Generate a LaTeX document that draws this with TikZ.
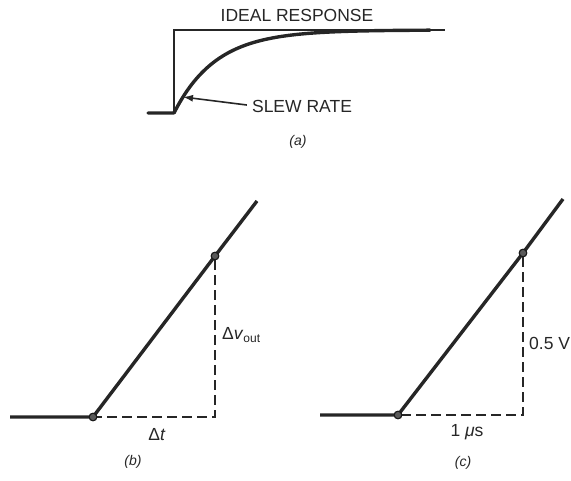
\documentclass[tikz,border=0pt]{standalone}
\usepackage{fontspec}
\setmainfont{Liberation Sans}
\usetikzlibrary{arrows.meta}
\begin{document}
\begin{tikzpicture}[x=1pt,y=1pt,
  thickline/.style={line width=3.4pt,color=black!85},
  thinline/.style={line width=2.2pt,color=black!85},
  dashline/.style={line width=2.2pt,color=black!85,dash pattern=on 10pt off 5pt},
  lbl/.style={font=\fontsize{17.5}{20}\selectfont,text=black!85,inner sep=0pt},
  caption/.style={font=\fontsize{14}{16}\selectfont\itshape,text=black!85,inner sep=0pt},
  dot/.style={circle,draw=black!90,fill=black!65,line width=1pt,minimum size=7.5pt,inner sep=0pt}]
\useasboundingbox (0,0) rectangle (571,480);
% ---------- (a)
\coordinate (a0) at (148,367);
\coordinate (a1) at (174,367);
\coordinate (a2) at (174,450);
\coordinate (a3) at (445,450);
\draw[thinline] (a1) -- (a2) -- (a3);
\draw[thickline,line cap=round] (a0) -- (a1)
  plot[domain=174:430,samples=80,smooth] (\x,{367+83*(1-exp(-(\x-174)/42))});
\node[lbl] (ideal) at (297,465) {IDEAL RESPONSE};
\node[lbl] (slew) at (302,374) {SLEW RATE};
\coordinate (slewpt) at (183,383);
\draw[line width=1.6pt,color=black!85,-{Latex[length=10pt,width=7pt]}] (slew.west) ++(-5,1) -- (slewpt);
\node[caption] (capa) at (298,338) {(a)};
% ---------- (b)
\coordinate (b0) at (10,63);
\node[dot] (b1) at (93,63) {};
\node[dot] (b2) at (215,224) {};
\coordinate (b3) at (257,279);
\coordinate (bc) at (215,63);
\draw[thickline] (b0) -- (b1.center) -- (b2.center) -- (b3);
\node[dot] at (b1) {};
\node[dot] at (b2) {};
\draw[dashline] (b2.south) -- (bc) -- (b1.east);
\node[lbl,anchor=west] (dv) at (222,145) {Δ\textit{v}\raisebox{-0.4ex}{\fontsize{12}{13}\selectfont out}};
\node[lbl] (dt) at (157,45) {Δ\textit{t}};
\node[caption] (capb) at (133,18) {(b)};
% ---------- (c)
\coordinate (c0) at (320,65);
\node[dot] (c1) at (398,65) {};
\node[dot] (c2) at (523,227) {};
\coordinate (c3) at (563,281);
\coordinate (cc) at (523,65);
\draw[thickline] (c0) -- (c1.center) -- (c2.center) -- (c3);
\node[dot] at (c1) {};
\node[dot] at (c2) {};
\draw[dashline] (c2.south) -- (cc) -- (c1.east);
\node[lbl,anchor=west] (dvc) at (529,137) {0.5 V};
\node[lbl] (dtc) at (467,48) {1 \textit{μ}s};
\node[caption] (capc) at (463,17) {(c)};
\end{tikzpicture}
\end{document}
